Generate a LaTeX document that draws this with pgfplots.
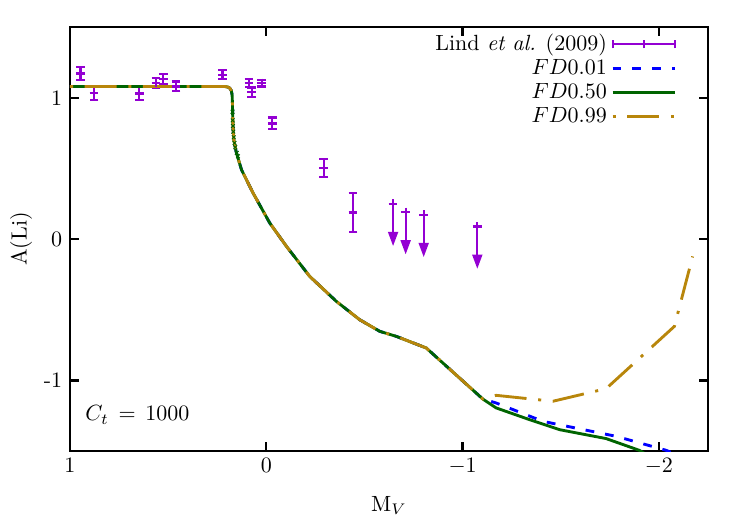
\documentclass[border=0pt]{standalone}
\usepackage{pgfplots}
\pgfplotsset{compat=1.18}
\usetikzlibrary{arrows.meta}

\definecolor{lindviolet}{RGB}{148,0,211}
\definecolor{fdblue}{RGB}{0,0,255}
\definecolor{fdgreen}{RGB}{0,100,0}
\definecolor{fdgold}{RGB}{184,134,11}

% Lind et al. (2009): measured A(Li) with errors
\pgfplotstableread{
x       y      ey
0.946   1.172  0.044
0.878   1.035  0.050
0.647   1.030  0.045
0.562   1.105  0.035
0.525   1.133  0.035
0.460   1.080  0.035
0.223   1.163  0.033
0.088   1.104  0.030
0.074   1.038  0.035
0.023   1.104  0.024
-0.031  0.818  0.042
-0.293  0.502  0.062
-0.442  0.188  0.140
}\lindtable

% Lind et al. (2009): upper limits
\pgfplotstableread{
x       y      v
-0.646  0.250  -0.30
-0.710  0.191  -0.30
-0.802  0.172  -0.30
-1.075  0.089  -0.30
}\limtable

% FD 0.01
\pgfplotstableread{
x       y
1.000   1.079
0.210   1.079
0.195   1.075
0.186   1.068
0.178   1.050
0.174   1.020
0.172   0.950
0.171   0.870
0.169   0.780
0.165   0.700
0.152   0.609
0.126   0.490
0.067   0.325
-0.018  0.113
-0.103  -0.052
-0.221  -0.264
-0.357  -0.441
-0.476  -0.571
-0.578  -0.653
-0.663  -0.689
-0.815  -0.771
-1.103  -1.132
-1.171  -1.160
-1.409  -1.290
-1.782  -1.396
-2.037  -1.495
-2.080  -1.520
}\fdA

% FD 0.50
\pgfplotstableread{
x       y
1.000   1.079
0.210   1.079
0.195   1.075
0.186   1.068
0.178   1.050
0.174   1.020
0.172   0.950
0.171   0.870
0.169   0.780
0.165   0.700
0.152   0.609
0.126   0.490
0.067   0.325
-0.018  0.113
-0.103  -0.052
-0.221  -0.264
-0.357  -0.441
-0.476  -0.571
-0.578  -0.653
-0.663  -0.689
-0.815  -0.771
-1.103  -1.132
-1.171  -1.195
-1.341  -1.278
-1.494  -1.349
-1.731  -1.412
-1.900  -1.495
-1.930  -1.520
}\fdB

% FD 0.99
\pgfplotstableread{
x       y
1.000   1.079
0.210   1.079
0.195   1.075
0.186   1.068
0.178   1.050
0.174   1.020
0.172   0.950
0.171   0.870
0.169   0.780
0.165   0.700
0.152   0.609
0.126   0.490
0.067   0.325
-0.018  0.113
-0.103  -0.052
-0.221  -0.264
-0.357  -0.441
-0.476  -0.571
-0.578  -0.653
-0.663  -0.689
-0.815  -0.771
-1.103  -1.132
-1.171  -1.106
-1.460  -1.148
-1.731  -1.059
-2.079  -0.618
-2.172  -0.123
}\fdC

% scattered FD 0.50 points along the steep drop
\pgfplotstableread{
x       y
0.172   0.900
0.171   0.840
0.170   0.800
0.168   0.760
0.166   0.720
0.162   0.680
0.158   0.650
0.150   0.610
0.144   0.585
}\dropB

\begin{document}
\begin{tikzpicture}
\useasboundingbox (0,0) rectangle (340.9pt,238.6pt);
\begin{axis}[
  at={(31.8pt,33.6pt)}, anchor=south west,
  scale only axis, width=290pt, height=192.7pt,
  x dir=reverse,
  xmin=-2.25, xmax=1, ymin=-1.5, ymax=1.5,
  xtick={-2,-1,0,1},
  ytick={-1,0,1}, yticklabels={-1,0,1},
  tick align=inside,
  major tick length=4pt,
  tick style={line width=1.1pt, black},
  axis line style={line width=1.3pt},
  xlabel={M$_V$}, ylabel={A(Li)},
  xlabel style={yshift=-3pt},
  ylabel style={yshift=-1.5pt},
  legend style={draw=none, fill=none, at={(0.962,1.005)}, anchor=north east,
    cells={anchor=east}, row sep=-1.5pt},
  legend plot pos=right,
  legend image code/.code={\draw[#1] (0cm,0cm) -- (1cm,0cm);},
  clip=true,
]
\addplot[lindviolet, only marks, mark=+, mark size=2pt,
  mark options={line width=1pt},
  error bars/.cd, y dir=both, y explicit, error mark=-,
  error bar style={line width=1pt},
  error mark options={rotate=90, mark size=2pt, line width=1pt},
  /pgfplots/legend image code/.code={
    \draw[lindviolet, line width=1pt] (0cm,0cm) -- (1cm,0cm);
    \draw[lindviolet, line width=1pt] (0cm,-2pt) -- (0cm,2pt);
    \draw[lindviolet, line width=1pt] (0.5cm,-2pt) -- (0.5cm,2pt);
    \draw[lindviolet, line width=1pt] (1cm,-2pt) -- (1cm,2pt);
  }]
  table[x=x, y=y, y error=ey] {\lindtable};
\addlegendentry{Lind \textit{et al.} (2009)}

\addplot[fdblue, line width=1.3pt, dash pattern=on 4pt off 5pt]
  table[x=x, y=y] {\fdA};
\addlegendentry{$FD0.01$}

\addplot[fdgreen, line width=1.3pt]
  table[x=x, y=y] {\fdB};
\addlegendentry{$FD0.50$}
\addplot[fdgreen, only marks, mark=x, mark size=1.2pt, forget plot]
  table[x=x, y=y] {\dropB};

\addplot[fdgold, line width=1.3pt, dash pattern=on 1.4pt off 5.3pt on 14.5pt off 5.3pt]
  table[x=x, y=y] {\fdC};
\addlegendentry{$FD0.99$}

% upper limits
\addplot[lindviolet, line width=1pt, -{Triangle[width=4.5pt,length=6.5pt]},
  quiver={u=0, v=\thisrow{v}}, forget plot]
  table[x=x, y=y] {\limtable};
\addplot[lindviolet, only marks, mark=+, mark size=2pt,
  mark options={line width=1pt}, forget plot]
  table[x=x, y=y] {\limtable};

\node[anchor=west] at (axis description cs:0.012,0.085) {$C_t\,=\,1000$};
\end{axis}
\end{tikzpicture}
\end{document}
